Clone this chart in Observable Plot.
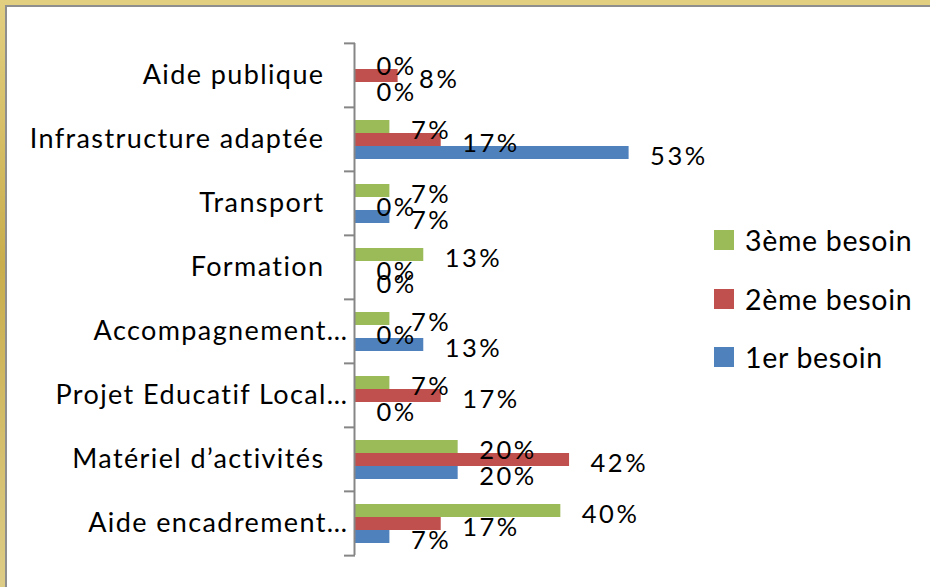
<!DOCTYPE html>
<html>
<head>
<meta charset="utf-8">
<script src="https://cdn.jsdelivr.net/npm/d3@7"></script>
<script src="https://cdn.jsdelivr.net/npm/@observablehq/plot@0.6"></script>
<style>
  body { margin: 0; background: #fff; font-family: Lato, "Noto Sans", sans-serif; }
  #wrap { position: relative; width: 930px; height: 587px; overflow: hidden; background: #fff; }
  .bt { position: absolute; left: 0; top: 0; width: 930px; height: 5px; background: #E2CF80; }
  .bl { position: absolute; left: 0; top: 0; width: 5px; height: 587px; background: linear-gradient(#E2CF80, #C9AD4C 45%, #DDCC86); }
  .gt { position: absolute; left: 5px; top: 5px; width: 925px; height: 2px; background: #8E8E8E; }
  .gl { position: absolute; left: 5px; top: 5px; width: 2px; height: 582px; background: #8E8E8E; }
  #chart { position: absolute; left: 7px; top: 7px; }
  .lg { position: absolute; left: 714px; height: 30px; display: flex; align-items: center; white-space: nowrap; }
  .lg .sw { width: 20px; height: 20px; margin-right: 11px; }
  .lg span { font-size: 28.5px; color: #000; letter-spacing: 0.7px; }
  .cat { letter-spacing: 1.4px; }
  .lab { letter-spacing: 2.5px; }
</style>
</head>
<body>
<div id="wrap">
  <div class="bt"></div><div class="bl"></div><div class="gt"></div><div class="gl"></div>
  <div id="chart"></div>
  <div id="legend"></div>
</div>
<script>
// Categories, top to bottom
const categories = [
  "Aide publique",
  "Infrastructure adaptée",
  "Transport",
  "Formation",
  "Accompagnement…",
  "Projet Educatif Local…",
  "Matériel d’activités",
  "Aide encadrement…"
];
// Series (legend order, top to bottom within each group)
const series = ["3ème besoin", "2ème besoin", "1er besoin"];
// Values in percent
const besoin3 = [0, 6.7, 6.7, 13.3, 6.7, 6.7, 20, 40];
const besoin2 = [8.3, 16.7, 0, 0, 0, 16.7, 41.7, 16.7];
const besoin1 = [0, 53.3, 6.7, 0, 13.3, 0, 20, 6.7];
const colors = ["#9BBB59", "#C0504D", "#4F81BD"];

const valuesBySeries = [besoin3, besoin2, besoin1];
const data = categories.flatMap((c, i) =>
  series.map((s, j) => ({category: c, series: s, value: valuesBySeries[j][i]}))
);

const halfBand = (580 - 35 - 31) / categories.length / 2;

const chart = Plot.plot({
  width: 923,
  height: 580,
  marginTop: 35,
  marginBottom: 31,
  marginLeft: 348,
  marginRight: 267,
  style: {fontFamily: "Lato, 'Noto Sans', sans-serif", background: "transparent", overflow: "visible", color: "#000"},
  x: {domain: [0, 60], axis: null},
  y: {domain: series, axis: null, paddingInner: 0, paddingOuter: 0.85},
  fy: {domain: categories, padding: 0, axis: null},
  color: {domain: series, range: colors},
  marks: [
    Plot.barX(data, {x: "value", y: "series", fy: "category", fill: "series"}),
    Plot.ruleX([0], {stroke: "#868686", strokeWidth: 2, dx: -1}),
    Plot.axisFy({anchor: "left", label: null, tickSize: 11, text: null, dy: -halfBand, stroke: "#868686", strokeWidth: 2}),
    Plot.axisFy({anchor: "left", label: null, ticks: [categories[categories.length - 1]], tickSize: 11, text: null, dy: halfBand, stroke: "#868686", strokeWidth: 2}),
    Plot.text(categories, {fy: d => d, text: d => d, frameAnchor: "left", textAnchor: "end", dx: -31, fontSize: 27, className: "cat", filter: d => !d.endsWith("…")}),
    Plot.text(categories, {fy: d => d, text: d => d, frameAnchor: "left", textAnchor: "end", dx: -7, fontSize: 27, className: "cat", filter: d => d.endsWith("…")}),
    Plot.text(data, {x: "value", y: "series", fy: "category", text: d => Math.round(d.value) + "%", textAnchor: "start", dx: 21, dy: 4, fontSize: 25.5, className: "lab", fill: "#000"})
  ]
});
document.getElementById("chart").appendChild(chart);

const legendTops = [225, 284, 342];
const legend = document.getElementById("legend");
series.forEach((s, j) => {
  const row = document.createElement("div");
  row.className = "lg";
  row.style.top = legendTops[j] + "px";
  const sw = document.createElement("div");
  sw.className = "sw";
  sw.style.background = colors[j];
  const t = document.createElement("span");
  t.textContent = s;
  row.appendChild(sw);
  row.appendChild(t);
  legend.appendChild(row);
});
</script>
</body>
</html>
